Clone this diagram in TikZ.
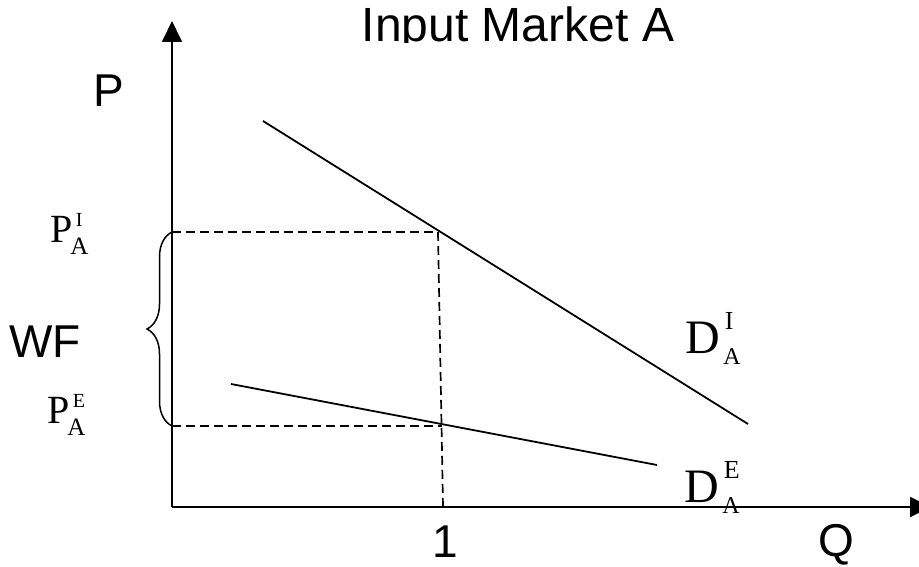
\documentclass[tikz,border=0pt]{standalone}
\usepackage{fontspec}
\setmainfont{Liberation Serif}
\setsansfont{Liberation Sans}
\usetikzlibrary{arrows.meta, decorations.pathreplacing}

\newcommand{\pvar}[3]{#1\rlap{\hspace{3.5pt}\raisebox{15.5pt}{\fontsize{20}{20}\selectfont #3}}\hspace{-2pt}\raisebox{-12.5pt}{\fontsize{25}{25}\selectfont #2}}
\newcommand{\dvar}[3]{#1\rlap{\hspace{5pt}\raisebox{24pt}{\fontsize{26}{26}\selectfont #3}}\hspace{3.5pt}\raisebox{-11pt}{\fontsize{24}{24}\selectfont #2}}

\begin{document}
\begin{tikzpicture}[x=1pt, y=-1pt,
    axis/.style={line width=1.8pt, -{Triangle[length=21pt, width=20pt]}},
    demand/.style={line width=1.8pt},
    guide/.style={line width=1.7pt, dash pattern=on 9pt off 5pt},
    sanslabel/.style={font=\sffamily\fontsize{46}{46}\selectfont, inner sep=0pt, anchor=base west},
    plabel/.style={font=\fontsize{40}{40}\selectfont, inner sep=0pt, anchor=base west},
    dlabel/.style={font=\fontsize{48}{48}\selectfont, inner sep=0pt, anchor=base west}
]
    \useasboundingbox (0,0) rectangle (919,567);

    % axes
    \coordinate (origin) at (172,507);
    \coordinate (ptop) at (172,21);
    \coordinate (qend) at (931,507);
    \draw[axis] (origin) -- (ptop);
    \draw[axis] (origin) -- (qend);

    % demand curves
    \coordinate (dIstart) at (263,121);
    \coordinate (dIend) at (748,424);
    \coordinate (dEstart) at (231,384);
    \coordinate (dEend) at (657,465);
    \draw[demand] (dIstart) -- (dIend);
    \draw[demand] (dEstart) -- (dEend);

    % prices at Q = 1
    \coordinate (pIaxis) at (172,232);
    \coordinate (pEaxis) at (172,426);
    \coordinate (pIpoint) at (438,232);
    \coordinate (pEpoint) at (442,426);
    \coordinate (qone) at (443,507);
    \draw[guide] (pIaxis) -- (pIpoint);
    \draw[guide] (pEaxis) -- (pEpoint);
    \draw[guide] (pIpoint) -- (qone);

    \draw[line width=1.5pt, decorate, decoration={brace, amplitude=25pt}] (pEaxis) -- (pIaxis);

    \begin{scope}
        \clip (300,0) rectangle (750,42.5);
        \node[font=\sffamily\fontsize{48}{48}\selectfont, inner sep=0pt, anchor=base] (title) at (518,42) {Input Market A};
    \end{scope}

    \node[sanslabel] (plab) at (93,107) {P};
    \node[sanslabel] (wf) at (9,357) {WF};
    \node[sanslabel] (one) at (432,557) {1};
    \node[sanslabel] (qlab) at (818,556) {Q};

    \node[plabel] (priceI) at (50,242) {\pvar{P}{A}{I}};
    \node[plabel] (priceE) at (47,423) {\pvar{P}{A}{E}};

    \node[dlabel] (demI) at (685,353) {\dvar{D}{A}{I}};
    \node[dlabel] (demE) at (684,502) {\dvar{D}{A}{E}};
\end{tikzpicture}
\end{document}
